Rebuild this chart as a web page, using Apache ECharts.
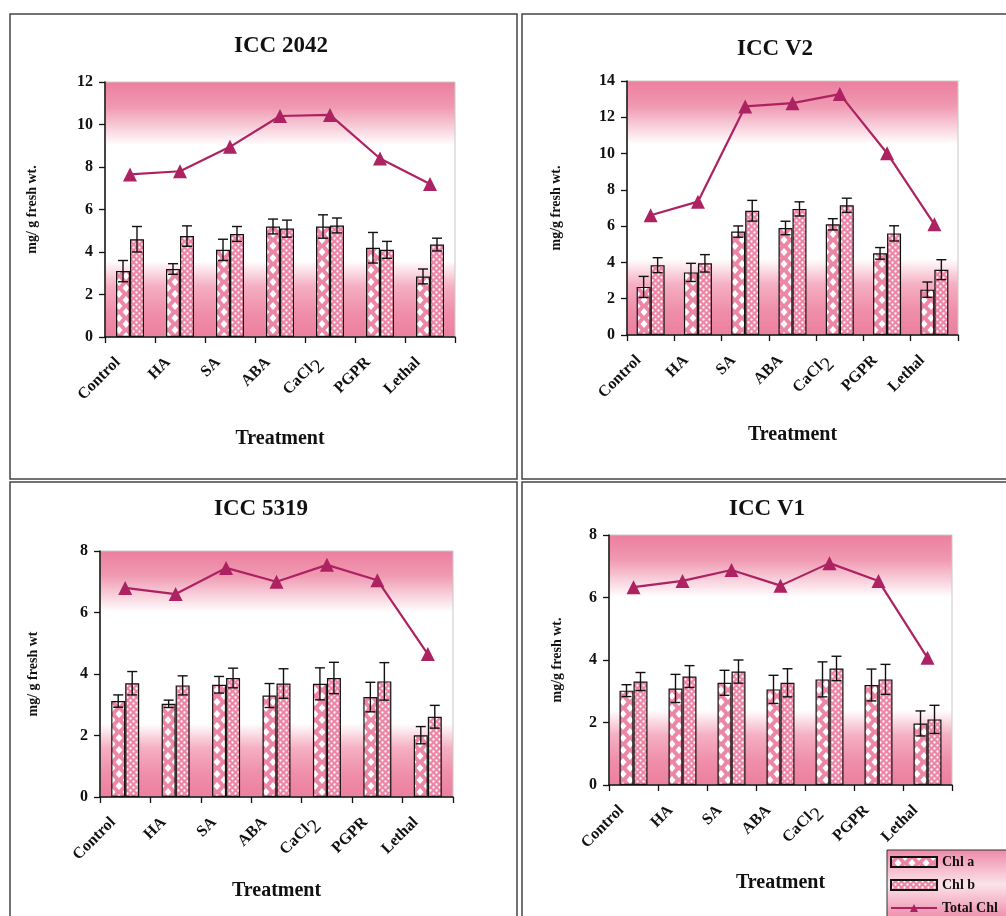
<!DOCTYPE html>
<html>
<head>
<meta charset="utf-8">
<script src="https://cdn.jsdelivr.net/npm/echarts@6/dist/echarts.min.js"></script>
<style>
html,body{margin:0;padding:0;background:#fff;}
#main{width:1006px;height:916px;}
</style>
</head>
<body>
<div id="main"></div>
<script>
// ---------- DATA ----------
var categories = ['Control', 'HA', 'SA', 'ABA', 'CaCl2', 'PGPR', 'Lethal'];
var panelTitles = ['ICC 2042', 'ICC V2', 'ICC 5319', 'ICC V1'];
var yAxisNames = ['mg/ g fresh wt.', 'mg/g fresh wt.', 'mg/ g fresh wt', 'mg/g fresh wt.'];
var yAxisMax = [12, 14, 8, 8];

var p1ChlA = [3.1, 3.2, 4.1, 5.2, 5.2, 4.2, 2.85];
var p1ChlAErr = [0.5, 0.25, 0.5, 0.35, 0.55, 0.72, 0.35];
var p1ChlB = [4.6, 4.75, 4.85, 5.1, 5.25, 4.1, 4.35];
var p1ChlBErr = [0.6, 0.48, 0.35, 0.4, 0.35, 0.4, 0.3];
var p1Total = [7.65, 7.8, 8.95, 10.4, 10.45, 8.4, 7.2];

var p2ChlA = [2.65, 3.45, 5.7, 5.9, 6.1, 4.5, 2.5];
var p2ChlAErr = [0.58, 0.5, 0.31, 0.37, 0.31, 0.32, 0.42];
var p2ChlB = [3.85, 3.95, 6.85, 6.95, 7.15, 5.6, 3.6];
var p2ChlBErr = [0.41, 0.48, 0.57, 0.39, 0.39, 0.42, 0.55];
var p2Total = [6.6, 7.35, 12.6, 12.78, 13.28, 10.02, 6.1];

var p3ChlA = [3.12, 3.03, 3.65, 3.3, 3.68, 3.25, 2.01];
var p3ChlAErr = [0.2, 0.12, 0.27, 0.39, 0.52, 0.48, 0.28];
var p3ChlB = [3.7, 3.63, 3.87, 3.69, 3.87, 3.76, 2.61];
var p3ChlBErr = [0.38, 0.31, 0.32, 0.48, 0.51, 0.61, 0.37];
var p3Total = [6.8, 6.6, 7.45, 7.0, 7.55, 7.05, 4.65];

var p4ChlA = [3.02, 3.09, 3.27, 3.06, 3.38, 3.2, 1.97];
var p4ChlAErr = [0.19, 0.45, 0.4, 0.45, 0.56, 0.51, 0.4];
var p4ChlB = [3.31, 3.47, 3.63, 3.27, 3.73, 3.38, 2.1];
var p4ChlBErr = [0.29, 0.35, 0.37, 0.45, 0.39, 0.48, 0.45];
var p4Total = [6.33, 6.53, 6.88, 6.38, 7.1, 6.53, 4.07];

var panels = [
  {a: p1ChlA, aErr: p1ChlAErr, b: p1ChlB, bErr: p1ChlBErr, t: p1Total},
  {a: p2ChlA, aErr: p2ChlAErr, b: p2ChlB, bErr: p2ChlBErr, t: p2Total},
  {a: p3ChlA, aErr: p3ChlAErr, b: p3ChlB, bErr: p3ChlBErr, t: p3Total},
  {a: p4ChlA, aErr: p4ChlAErr, b: p4ChlB, bErr: p4ChlBErr, t: p4Total}
];

// ---------- STYLE ----------
var FONT = 'Liberation Serif';
var PINK = '#ec86a6';
var LINE = '#ad2260';
var BAR_W = 14;
var grids = [
  {left: 105, top: 82, width: 350, height: 255},
  {left: 627, top: 81, width: 331, height: 254},
  {left: 100, top: 551, width: 353, height: 246},
  {left: 609, top: 535, width: 343, height: 250}
];
var yNameGap = [66, 64, 60, 45];
var xNameGap = [92, 90, 84, 88];
var titlePos = [{x: 276, y: 30}, {x: 770, y: 33}, {x: 256, y: 493}, {x: 762, y: 493}];

function patternA() {
  var c = document.createElement('canvas');
  c.width = 14; c.height = 12;
  var g = c.getContext('2d');
  g.fillStyle = PINK; g.fillRect(0, 0, 14, 12);
  g.fillStyle = '#ffffff';
  function dia(cx, cy) {
    g.beginPath();
    g.moveTo(cx, cy - 4); g.lineTo(cx + 3.5, cy); g.lineTo(cx, cy + 4); g.lineTo(cx - 3.5, cy);
    g.closePath(); g.fill();
  }
  dia(7, 6); dia(0, 0); dia(14, 0); dia(0, 12); dia(14, 12);
  return c;
}
function patternB() {
  var c = document.createElement('canvas');
  c.width = 6; c.height = 6;
  var g = c.getContext('2d');
  g.fillStyle = PINK; g.fillRect(0, 0, 6, 6);
  g.fillStyle = '#ffffff';
  g.beginPath(); g.arc(1.5, 1.5, 1.15, 0, Math.PI * 2); g.fill();
  g.beginPath(); g.arc(4.5, 4.5, 1.15, 0, Math.PI * 2); g.fill();
  return c;
}
var patA = patternA(), patB = patternB();

function bgGradient() {
  return new echarts.graphic.LinearGradient(0, 0, 0, 1, [
    {offset: 0, color: '#ec7e9e'},
    {offset: 0.1, color: '#f099b2'},
    {offset: 0.25, color: '#ffffff'},
    {offset: 0.7, color: '#ffffff'},
    {offset: 0.8, color: '#f5afc3'},
    {offset: 0.9, color: '#ef8fab'},
    {offset: 1, color: '#ec7e9e'}
  ]);
}

function errRender(offset) {
  return function (params, api) {
    var idx = api.value(0), v = api.value(1), e = api.value(2);
    var hi = api.coord([idx, v + e]);
    var lo = api.coord([idx, v - e]);
    var x = hi[0] + offset;
    var cap = 5;
    var st = {stroke: '#111', lineWidth: 1.4};
    return {
      type: 'group',
      children: [
        {type: 'line', shape: {x1: x, y1: hi[1], x2: x, y2: lo[1]}, style: st},
        {type: 'line', shape: {x1: x - cap, y1: hi[1], x2: x + cap, y2: hi[1]}, style: st},
        {type: 'line', shape: {x1: x - cap, y1: lo[1], x2: x + cap, y2: lo[1]}, style: st}
      ]
    };
  };
}

var option = {
  animation: false,
  backgroundColor: '#fff',
  textStyle: {fontFamily: FONT},
  title: [],
  grid: [],
  xAxis: [],
  yAxis: [],
  series: [],
  legend: {
    data: [{name: 'Chl a', icon: 'rect'}, {name: 'Chl b', icon: 'rect'}, {name: 'Total Chl'}],
    orient: 'vertical',
    left: 887, top: 850, height: 90, width: 140,
    itemWidth: 46, itemHeight: 10, itemGap: 9,
    padding: [5, 20, 4, 3],
    backgroundColor: new echarts.graphic.LinearGradient(0, 0, 0, 1, [
      {offset: 0, color: '#ee8aa8'}, {offset: 0.5, color: '#fbe3ea'}, {offset: 1, color: '#ee8aa8'}
    ]),
    borderColor: '#333', borderWidth: 1, borderRadius: 0,
    textStyle: {fontFamily: FONT, fontWeight: 'bold', fontSize: 14, color: '#111'},
    selectedMode: false
  },
  graphic: [
    {type: 'rect', shape: {x: 10, y: 14, width: 507, height: 465}, style: {fill: 'none', stroke: '#444', lineWidth: 1.5}, z: 100},
    {type: 'rect', shape: {x: 522, y: 14, width: 500, height: 465}, style: {fill: 'none', stroke: '#444', lineWidth: 1.5}, z: 100},
    {type: 'rect', shape: {x: 10, y: 482, width: 507, height: 450}, style: {fill: 'none', stroke: '#444', lineWidth: 1.5}, z: 100},
    {type: 'rect', shape: {x: 522, y: 482, width: 500, height: 450}, style: {fill: 'none', stroke: '#444', lineWidth: 1.5}, z: 100}
  ]
};

for (var i = 0; i < 4; i++) {
  var p = panels[i];
  option.title.push({
    text: panelTitles[i], left: titlePos[i].x, top: titlePos[i].y, textAlign: 'center',
    textStyle: {fontFamily: FONT, fontWeight: 'bold', fontSize: 23, color: '#111'}
  });
  option.grid.push({
    left: grids[i].left, top: grids[i].top, width: grids[i].width, height: grids[i].height,
    show: true, backgroundColor: bgGradient(), borderColor: '#c8c8c8', borderWidth: 1
  });
  option.xAxis.push({
    type: 'category', gridIndex: i, data: categories, boundaryGap: true,
    name: 'Treatment', nameLocation: 'middle', nameGap: xNameGap[i],
    nameTextStyle: {fontFamily: FONT, fontWeight: 'bold', fontSize: 20, color: '#111'},
    axisLine: {lineStyle: {color: '#111', width: 1.5}},
    axisTick: {show: true, length: 6, lineStyle: {color: '#111', width: 1.3}},
    axisLabel: {
      interval: 0, rotate: 45, margin: 11, color: '#111',
      fontFamily: FONT, fontWeight: 'bold', fontSize: 16,
      padding: [0, 17, 0, 0],
      formatter: function (v) { return v === 'CaCl2' ? 'CaCl{s|2}' : v; },
      rich: {s: {fontFamily: FONT, fontSize: 20, fontWeight: 'normal', color: '#111', padding: [10, 0, 0, 0]}}
    }
  });
  option.yAxis.push({
    type: 'value', gridIndex: i, min: 0, max: yAxisMax[i], interval: 2,
    name: yAxisNames[i], nameLocation: 'middle', nameGap: yNameGap[i], nameRotate: 90,
    nameTextStyle: {fontFamily: FONT, fontWeight: 'bold', fontSize: 14, color: '#111'},
    axisLine: {show: true, lineStyle: {color: '#111', width: 1.5}},
    axisTick: {show: true, length: 6, lineStyle: {color: '#111', width: 1.3}},
    axisLabel: {fontFamily: FONT, fontWeight: 'bold', fontSize: 16, color: '#111', margin: 12},
    splitLine: {show: false}
  });
  option.series.push({
    name: 'Chl a', type: 'bar', xAxisIndex: i, yAxisIndex: i, data: p.a,
    barWidth: BAR_W, barGap: '0%',
    itemStyle: {color: {image: patA, repeat: 'repeat'}, borderColor: '#111', borderWidth: 1.2}
  });
  option.series.push({
    name: 'Chl b', type: 'bar', xAxisIndex: i, yAxisIndex: i, data: p.b,
    barWidth: BAR_W, barGap: '0%',
    itemStyle: {color: {image: patB, repeat: 'repeat'}, borderColor: '#111', borderWidth: 1.2}
  });
  option.series.push({
    name: 'errA' + i, type: 'custom', xAxisIndex: i, yAxisIndex: i, z: 5,
    renderItem: errRender(-BAR_W / 2),
    data: p.a.map(function (v, k) { return [k, v, p.aErr[k]]; })
  });
  option.series.push({
    name: 'errB' + i, type: 'custom', xAxisIndex: i, yAxisIndex: i, z: 5,
    renderItem: errRender(BAR_W / 2),
    data: p.b.map(function (v, k) { return [k, v, p.bErr[k]]; })
  });
  option.series.push({
    name: 'Total Chl', type: 'line', xAxisIndex: i, yAxisIndex: i, data: p.t, z: 6,
    symbol: 'triangle', symbolSize: 14,
    lineStyle: {color: LINE, width: 2.2},
    itemStyle: {color: LINE}
  });
}

var chart = echarts.init(document.getElementById('main'), null, {renderer: 'canvas'});
chart.setOption(option);
</script>
</body>
</html>
